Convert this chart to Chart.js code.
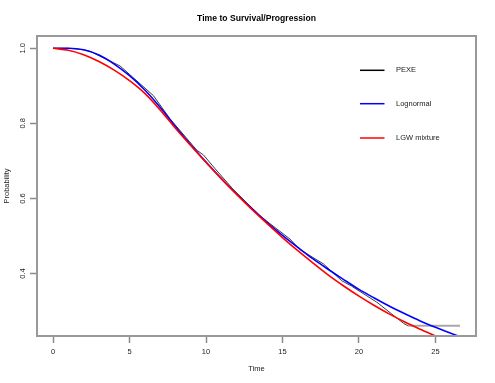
<!DOCTYPE html>
<html><head><meta charset="utf-8">
<script src="https://cdn.jsdelivr.net/npm/chart.js@4.4.1/dist/chart.umd.min.js"></script>
<style>html,body{margin:0;padding:0;background:#fff}#wrap{width:495px;height:383px}</style>
</head><body><div id="wrap"><canvas id="c" width="495" height="383"></canvas></div>
<script>
const chartTitle = 'Time to Survival/Progression';
const xLabel = 'Time';
const yLabel = 'Probability';
const seriesNames = ['PEXE', 'Lognormal', 'LGW mixture'];
const seriesColors = ['#000000', '#0000ff', '#ff0000'];

const pexeTime = [0, 1, 2, 2.42, 4.38, 6.56, 7.65, 9.39, 9.83, 10.6, 11.76, 13.53, 14.18, 15.49, 16.14, 17.67, 18.87, 19.5, 21.16, 22.9, 23.2, 26.6];
const pexeSurv = [1.000, 1.000, 0.996, 0.992, 0.953, 0.874, 0.812, 0.729, 0.716, 0.679, 0.625, 0.554, 0.533, 0.492, 0.464, 0.426, 0.381, 0.367, 0.324, 0.268, 0.261, 0.261];

const lognTime = [0, 1, 2, 3, 4, 5, 6, 7, 8, 9, 10, 11, 12, 13, 14, 15, 16, 17, 18, 19, 20, 21, 22, 23, 24, 25, 26, 26.6];
const lognSurv = [1.000, 1.000, 0.996, 0.982, 0.958, 0.927, 0.889, 0.843, 0.792, 0.743, 0.697, 0.653, 0.612, 0.573, 0.536, 0.502, 0.470, 0.439, 0.411, 0.384, 0.358, 0.335, 0.313, 0.293, 0.274, 0.257, 0.241, 0.232];

const lgwTime = [0, 1, 2, 3, 4, 5, 6, 7, 8, 9, 10, 11, 12, 13, 14, 15, 16, 17, 18, 19, 20, 21, 22, 23, 24, 25];
const lgwSurv = [1.000, 0.995, 0.983, 0.965, 0.942, 0.914, 0.880, 0.836, 0.787, 0.741, 0.696, 0.653, 0.611, 0.571, 0.533, 0.496, 0.461, 0.428, 0.396, 0.367, 0.340, 0.315, 0.292, 0.271, 0.252, 0.234];

const xTicks = [0, 5, 10, 15, 20, 25];
const yTicks = [0.4, 0.6, 0.8, 1.0];

const FONT = "'Liberation Sans', Arial, Helvetica, sans-serif";
const toPts = (xs, ys) => xs.map((x, i) => ({x: x, y: ys[i]}));

const titlePlugin = {
  id: 'rTitle',
  afterDraw(chart) {
    const ctx = chart.ctx, a = chart.chartArea;
    ctx.save();
    ctx.font = 'bold 8.6px ' + FONT;
    ctx.fillStyle = '#000';
    ctx.textAlign = 'center';
    ctx.textBaseline = 'middle';
    ctx.fillText(chartTitle, (a.left + a.right) / 2, 18.5);
    ctx.restore();
  }
};

const boxPlugin = {
  id: 'rBox',
  afterDatasetsDraw(chart) {
    const ctx = chart.ctx, a = chart.chartArea;
    ctx.save();
    ctx.strokeStyle = '#999999';
    ctx.lineWidth = 2;
    ctx.strokeRect(a.left, a.top, a.right - a.left, a.bottom - a.top);
    ctx.restore();
  }
};

const legendPlugin = {
  id: 'rLegend',
  afterDraw(chart) {
    const ctx = chart.ctx;
    const rows = [70.3, 103.7, 138];
    ctx.save();
    ctx.font = '7.5px ' + FONT;
    ctx.textBaseline = 'middle';
    ctx.textAlign = 'left';
    chart.data.datasets.forEach((ds, i) => {
      const y = rows[i];
      ctx.strokeStyle = seriesColors[i];
      ctx.lineWidth = 1.5;
      ctx.beginPath();
      ctx.moveTo(360, y);
      ctx.lineTo(384.5, y);
      ctx.stroke();
      ctx.fillStyle = '#222';
      ctx.fillText(ds.label, 396, y);
    });
    ctx.restore();
  }
};

new Chart(document.getElementById('c'), {
  type: 'line',
  data: {
    datasets: [
      {
        label: seriesNames[0], data: toPts(pexeTime, pexeSurv),
        borderColor: '#3a3a3a', borderWidth: 1, pointRadius: 0, tension: 0, order: 3,
        segment: {
          borderColor: c => (c.p0.parsed.x >= 23.1 ? '#a8a8a8' : undefined),
          borderWidth: c => (c.p0.parsed.x >= 23.1 ? 2 : undefined)
        }
      },
      {
        label: seriesNames[1], data: toPts(lognTime, lognSurv),
        borderColor: seriesColors[1], borderWidth: 1.6, pointRadius: 0,
        cubicInterpolationMode: 'monotone', order: 2
      },
      {
        label: seriesNames[2], data: toPts(lgwTime, lgwSurv),
        borderColor: seriesColors[2], borderWidth: 1.6, pointRadius: 0,
        cubicInterpolationMode: 'monotone', order: 1
      }
    ]
  },
  options: {
    responsive: false,
    animation: false,
    devicePixelRatio: 1,
    layout: {padding: {top: 36, right: 19, bottom: 0, left: 0}},
    plugins: {legend: {display: false}, title: {display: false}, tooltip: {enabled: false}},
    scales: {
      x: {
        type: 'linear', min: -1.05, max: 27.65,
        afterBuildTicks: s => { s.ticks = xTicks.map(v => ({value: v})); },
        afterFit: s => { s.height = 47; },
        border: {display: false},
        grid: {display: true, drawOnChartArea: false, drawTicks: true, tickLength: 7, tickColor: '#8a8a8a', tickWidth: 1.5},
        ticks: {font: {size: 7.5, family: FONT}, color: '#222', padding: 4, maxRotation: 0, autoSkip: false},
        title: {display: true, text: xLabel, font: {size: 7.5, family: FONT}, color: '#222', padding: {top: 0, bottom: 9.5}}
      },
      y: {
        type: 'linear', min: 0.2338, max: 1.0328,
        afterBuildTicks: s => { s.ticks = yTicks.map(v => ({value: v})); },
        afterFit: s => { s.width = 37; },
        border: {display: false},
        grid: {display: true, drawOnChartArea: false, drawTicks: true, tickLength: 7, tickColor: '#8a8a8a', tickWidth: 1.5},
        ticks: {font: {size: 7.5, family: FONT}, color: '#222', padding: 1.5, minRotation: 90, maxRotation: 90, crossAlign: 'center', autoSkip: false,
                callback: v => v.toFixed(1)},
        title: {display: true, text: yLabel, font: {size: 7.5, family: FONT}, color: '#222', padding: {top: 2.8, bottom: 0}}
      }
    }
  },
  plugins: [titlePlugin, boxPlugin, legendPlugin]
});
</script>
</body></html>
